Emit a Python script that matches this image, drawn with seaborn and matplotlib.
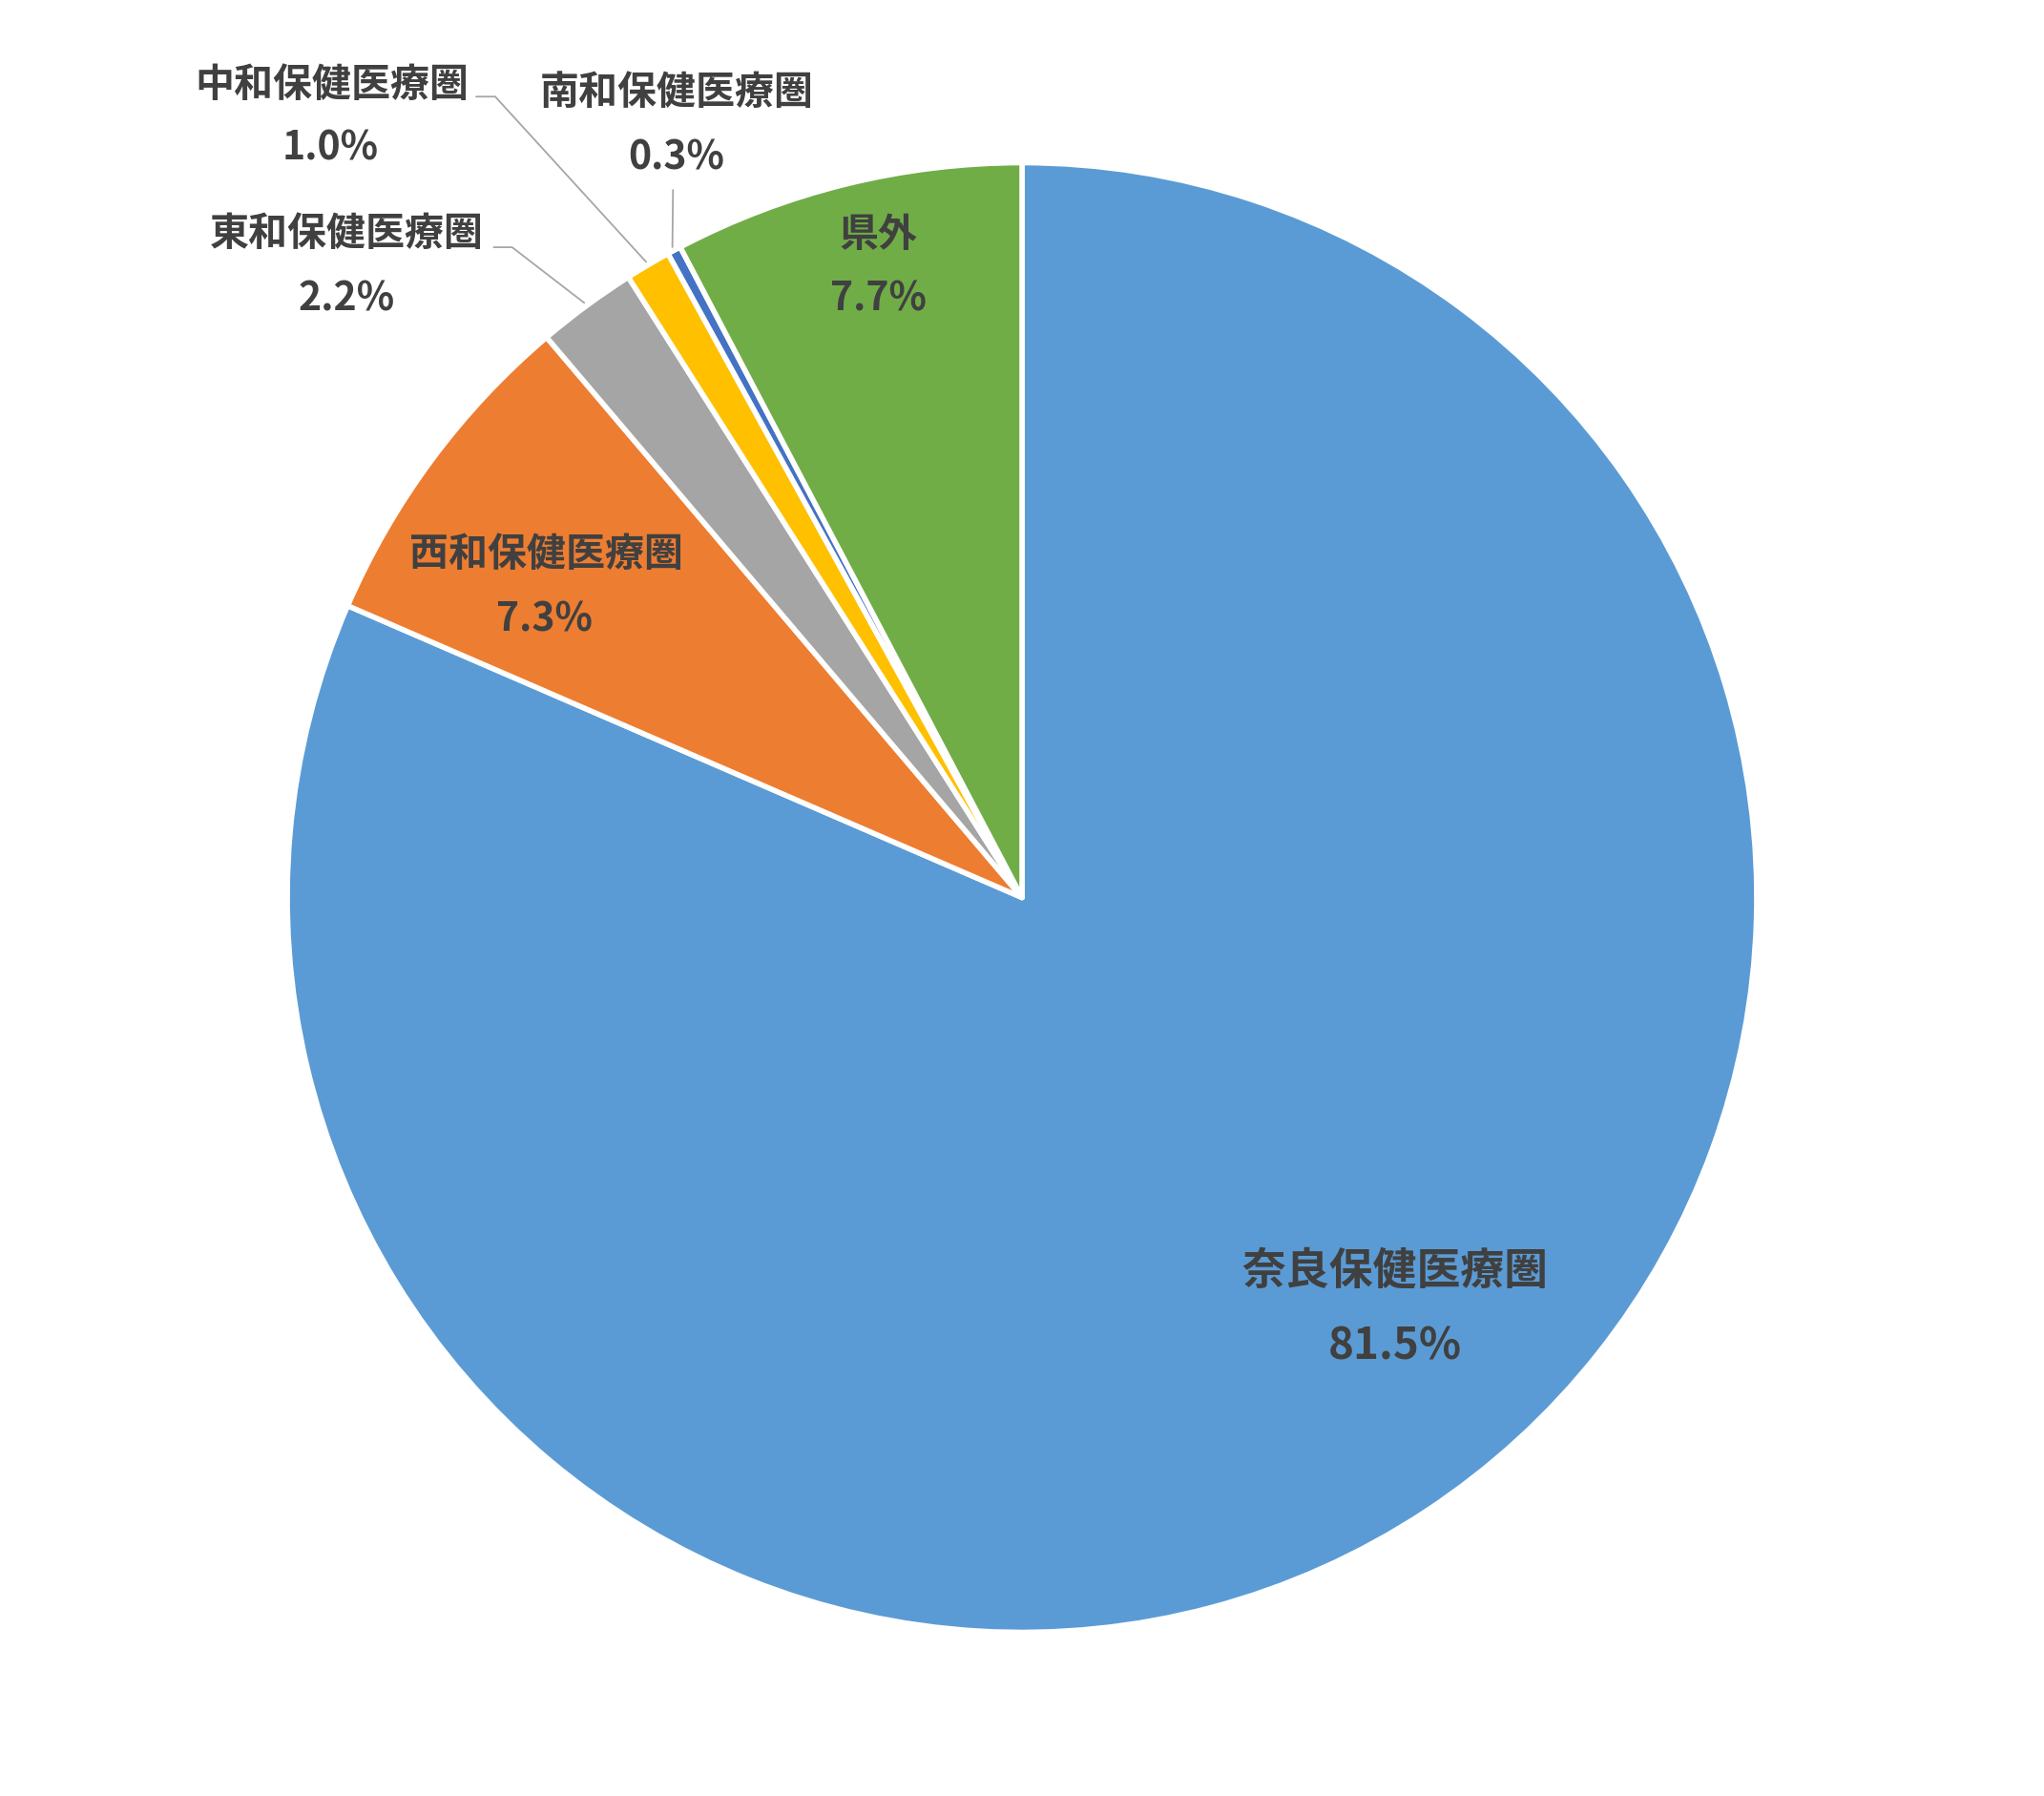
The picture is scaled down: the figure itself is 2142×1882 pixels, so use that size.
import numpy as np
import matplotlib
matplotlib.use("Agg")
import matplotlib.pyplot as plt
import seaborn as sns

# share of patients by area (%)
areas = ["奈良保健医療圏", "西和保健医療圏", "東和保健医療圏",
         "中和保健医療圏", "南和保健医療圏", "県外"]
shares = [81.5, 7.3, 2.2, 1.0, 0.3, 7.7]
colors = ["#5B9BD5", "#ED7D31", "#A5A5A5", "#FFC000", "#4472C4", "#70AD47"]

sns.set_theme(style="white")
plt.rcParams['font.family'] = ['Noto Sans CJK JP', 'DejaVu Sans']

fig = plt.figure(figsize=(21.42, 18.83), dpi=100)
ax = fig.add_axes([0, 0, 1, 1])

ax.pie(shares, colors=colors, startangle=90, counterclock=False,
       radius=1, center=(0, 0),
       wedgeprops=dict(edgecolor="white", linewidth=4, joinstyle="round"))

# label positions (name, percent) in pie-radius units
label_pos = {
    "奈良保健医療圏": ((0.508, -0.508), (0.508, -0.610)),
    "西和保健医療圏": ((-0.648, 0.468), (-0.650, 0.379)),
    "東和保健医療圏": ((-0.919, 0.905), (-0.919, 0.816)),
    "中和保健医療圏": ((-0.939, 1.107), (-0.941, 1.021)),
    "南和保健医療圏": ((-0.470, 1.097), (-0.470, 1.008)),
    "県外": ((-0.196, 0.903), (-0.196, 0.815)),
}
text_color = "#404040"
for name, val in zip(areas, shares):
    (nx, ny), (px, py) = label_pos[name]
    size = 33 if name == "奈良保健医療圏" else 29.5
    ax.text(nx, ny, name, ha="center", va="center", fontsize=size,
            fontweight="bold", color=text_color)
    ax.text(px, py, f"{val:.1f}%", ha="center", va="center", fontsize=size,
            fontweight="bold", color=text_color)

# leader lines for the small outside labels
cum = np.cumsum([0] + shares)
def mid_angle(i):
    frac = (cum[i] + cum[i + 1]) / 2 / 100
    return np.deg2rad(90 - frac * 360)

leaders = {2: [(-0.719, 0.885), (-0.694, 0.885)],
           3: [(-0.743, 1.090), (-0.717, 1.090)],
           4: [(-0.475, 0.963)]}
for i, pts in leaders.items():
    a = mid_angle(i)
    end = (1.005 * np.cos(a), 1.005 * np.sin(a))
    xs = [p[0] for p in pts] + [end[0]]
    ys = [p[1] for p in pts] + [end[1]]
    ax.plot(xs, ys, color="#A6A6A6", linewidth=1.3)

ax.set_xlim(-1.391, 1.391)
ax.set_ylim(-1.2227, 1.2227)
ax.set_aspect("equal")
ax.axis("off")

fig.savefig("out.png", dpi=100, facecolor="white")
